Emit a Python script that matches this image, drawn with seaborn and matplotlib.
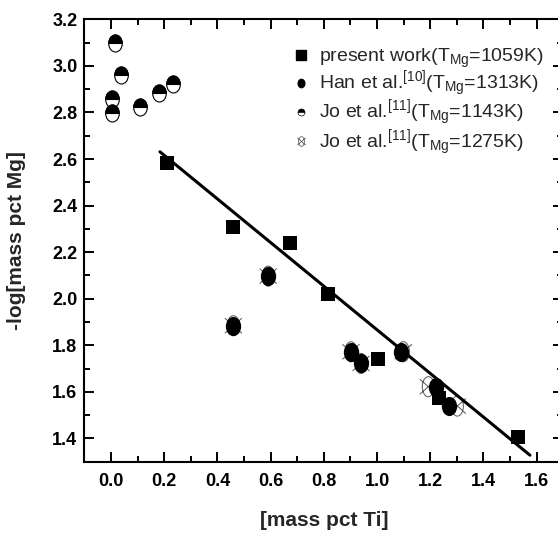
import numpy as np
import pandas as pd
import matplotlib
matplotlib.use("Agg")
import matplotlib.pyplot as plt
import seaborn as sns
from matplotlib.path import Path
from matplotlib.transforms import Affine2D
from matplotlib.lines import Line2D
from matplotlib.ticker import MultipleLocator, FormatStrFormatter

# ==========================================
# DATA
# ==========================================

present_ti = [0.21, 0.457, 0.673, 0.815, 1.004, 1.233, 1.529]
present_mg = [2.584, 2.309, 2.238, 2.019, 1.740, 1.572, 1.407]

han_ti = [0.46, 0.591, 0.902, 0.940, 1.089, 1.222, 1.272]
han_mg = [1.884, 2.097, 1.772, 1.722, 1.772, 1.622, 1.539]

jo1143_ti = [0.015, 0.038, 0.005, 0.005, 0.109, 0.18, 0.232]
jo1143_mg = [3.10, 2.96, 2.856, 2.796, 2.825, 2.885, 2.92]

jo1275_ti = [0.46, 0.591, 0.902, 0.940, 1.099, 1.193, 1.302]
jo1275_mg = [1.884, 2.097, 1.772, 1.722, 1.772, 1.622, 1.539]

fit_ti = [0.184, 1.575]
fit_mg = [2.631, 1.328]

labels = [
    r"present work(T$_{\mathrm{Mg}}$=1059K)",
    r"Han et al.$^{\mathrm{[10]}}$(T$_{\mathrm{Mg}}$=1313K)",
    r"Jo et al.$^{\mathrm{[11]}}$(T$_{\mathrm{Mg}}$=1143K)",
    r"Jo et al.$^{\mathrm{[11]}}$(T$_{\mathrm{Mg}}$=1275K)",
]

# ==========================================
# STYLE
# ==========================================

sns.set_theme(style="ticks")
plt.rcParams["font.family"] = ["Liberation Sans", "DejaVu Sans"]
plt.rcParams["mathtext.fontset"] = "custom"
plt.rcParams["mathtext.rm"] = "Liberation Sans"
plt.rcParams["mathtext.it"] = "Liberation Sans:italic"
plt.rcParams["mathtext.bf"] = "Liberation Sans:bold"

# marker shapes (slightly tall ovals)
oval = Affine2D().scale(0.8, 1.0).transform_path(Path.unit_circle())
top_half = Affine2D().rotate_deg(90).scale(0.8, 1.0).transform_path(
    Path.unit_circle_righthalf()
)
thin_oval = Affine2D().scale(0.6, 1.0).transform_path(Path.unit_circle())
cross_verts = list(thin_oval.vertices) + [(-0.85, -0.75), (0.85, 0.75),
                                          (-0.85, 0.75), (0.85, -0.75)]
cross_codes = list(thin_oval.codes) + [Path.MOVETO, Path.LINETO,
                                       Path.MOVETO, Path.LINETO]
oval_x = Path(cross_verts, cross_codes)

# ==========================================
# FIGURE
# ==========================================

fig = plt.figure(figsize=(5.58, 5.33), dpi=100)
ax = fig.add_axes([84.4 / 558, (533 - 461.7) / 533,
                   (563.2 - 84.4) / 558, (461.7 - 19.3) / 533])

sns.lineplot(x=fit_ti, y=fit_mg, ax=ax, color="black", linewidth=2.2,
             estimator=None, sort=False)

sns.scatterplot(x=present_ti, y=present_mg, ax=ax, marker="s", s=110,
                color="black", edgecolor="black", linewidth=0)

sns.scatterplot(x=jo1275_ti, y=jo1275_mg, ax=ax, marker=oval_x, s=210,
                facecolor="none", edgecolor="#555555", linewidth=0.7)

sns.scatterplot(x=han_ti, y=han_mg, ax=ax, marker=oval, s=190,
                color="black", edgecolor="black", linewidth=0)

sns.scatterplot(x=jo1143_ti, y=jo1143_mg, ax=ax, marker=oval, s=150,
                color="white", edgecolor="black", linewidth=0.8)
sns.scatterplot(x=jo1143_ti, y=jo1143_mg, ax=ax, marker=top_half, s=150,
                color="black", edgecolor="black", linewidth=0.8)

# ==========================================
# AXES
# ==========================================

ax.set_xlim(-0.1, 1.7)
ax.set_ylim(1.3, 3.2)

ax.xaxis.set_major_locator(MultipleLocator(0.2))
ax.xaxis.set_minor_locator(MultipleLocator(0.1))
ax.yaxis.set_major_locator(MultipleLocator(0.2))
ax.yaxis.set_minor_locator(MultipleLocator(0.1))
ax.xaxis.set_major_formatter(FormatStrFormatter("%.1f"))
ax.yaxis.set_major_formatter(FormatStrFormatter("%.1f"))

ax.tick_params(which="both", direction="in", top=True, right=True,
               width=1.4, colors="black")
ax.tick_params(which="major", length=7, labelsize=13)
ax.tick_params(axis="x", which="major", pad=8)
ax.tick_params(axis="y", which="major", pad=5)
ax.tick_params(which="minor", length=4)

for lab in ax.get_xticklabels() + ax.get_yticklabels():
    lab.set_fontweight("bold")

for side in ["left", "bottom", "top", "right"]:
    ax.spines[side].set_linewidth(1.5)
    ax.spines[side].set_color("black")

ax.set_xlabel("[mass pct Ti]", fontsize=15, fontweight="bold", labelpad=15)
ax.set_ylabel("-log[mass pct Mg]", fontsize=15, fontweight="bold", labelpad=19)

# ==========================================
# LEGEND
# ==========================================

handles = [
    Line2D([], [], linestyle="", marker="s", markersize=7, color="black"),
    Line2D([], [], linestyle="", marker=oval, markersize=6, color="black"),
    Line2D([], [], linestyle="", marker="o", markersize=5, color="black",
           fillstyle="top", markerfacecoloralt="white", markeredgewidth=0.5),
    Line2D([], [], linestyle="", marker=oval_x, markersize=7,
           markerfacecolor="none", markeredgecolor="#666666", markeredgewidth=0.6),
]

fig.legend(handles, labels, loc="upper left",
           bbox_to_anchor=(293 / 558, (533 - 47) / 533),
           frameon=False, fontsize=14, handlelength=0.8,
           handletextpad=0.55, labelspacing=-0.05, borderpad=0,
           borderaxespad=0)

fig.savefig("out.png", dpi=100)
